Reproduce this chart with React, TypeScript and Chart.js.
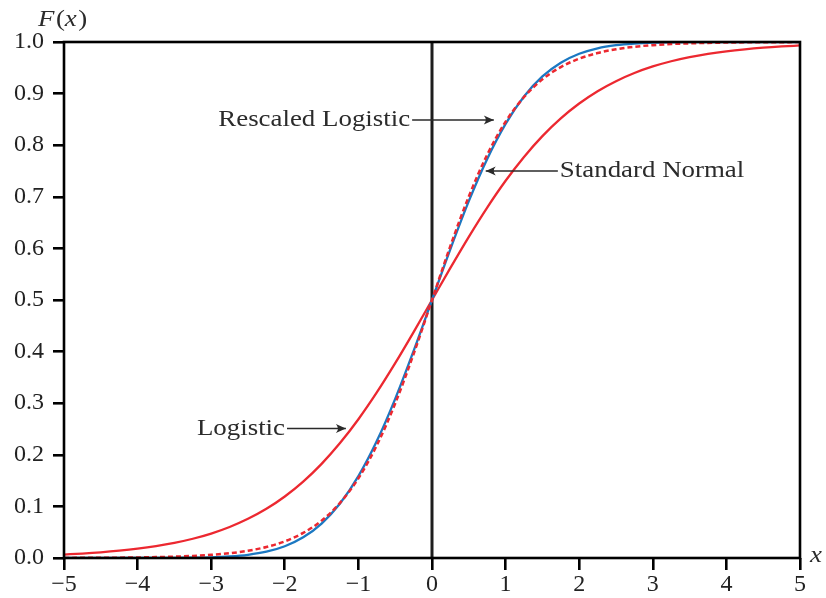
import React, { useEffect, useRef } from "react";
import { Chart, registerables } from "chart.js";

Chart.register(...registerables);

const xValues = [
  -5, -4.75, -4.5, -4.25, -4, -3.75, -3.5, -3.25, -3, -2.75, -2.5, -2.25, -2, -1.75, -1.5, -1.25, -1, -0.75, -0.5, -0.25,
  0, 0.25, 0.5, 0.75, 1, 1.25, 1.5, 1.75, 2, 2.25, 2.5, 2.75, 3, 3.25, 3.5, 3.75, 4, 4.25, 4.5, 4.75, 5,
];

const logistic = [
  0.0067, 0.0086, 0.011, 0.0141, 0.018, 0.023, 0.0293, 0.0373, 0.0474, 0.0601, 0.0759, 0.0953, 0.1192, 0.148, 0.1824,
  0.2227, 0.2689, 0.3208, 0.3775, 0.4378, 0.5, 0.5622, 0.6225, 0.6792, 0.7311, 0.7773, 0.8176, 0.852, 0.8808, 0.9047,
  0.9241, 0.9399, 0.9526, 0.9627, 0.9707, 0.977, 0.982, 0.9859, 0.989, 0.9914, 0.9933,
];

const standardNormal = [
  0.0, 0.0, 0.0, 0.0, 0.0, 0.0001, 0.0002, 0.0006, 0.0013, 0.003, 0.0062, 0.0122, 0.0228, 0.0401, 0.0668, 0.1056, 0.1587,
  0.2266, 0.3085, 0.4013, 0.5, 0.5987, 0.6915, 0.7734, 0.8413, 0.8944, 0.9332, 0.9599, 0.9772, 0.9878, 0.9938, 0.997,
  0.9987, 0.9994, 0.9998, 0.9999, 1.0, 1.0, 1.0, 1.0, 1.0,
];

const rescaledLogistic = [
  0.0002, 0.0003, 0.0005, 0.0007, 0.0011, 0.0017, 0.0026, 0.004, 0.0061, 0.0092, 0.0141, 0.0214, 0.0323, 0.0486, 0.0724,
  0.1067, 0.1545, 0.2184, 0.2994, 0.3953, 0.5, 0.6047, 0.7006, 0.7816, 0.8455, 0.8933, 0.9276, 0.9514, 0.9677, 0.9786,
  0.9859, 0.9908, 0.9939, 0.996, 0.9974, 0.9983, 0.9989, 0.9993, 0.9995, 0.9997, 0.9998,
];

const annotationLabels = ["Rescaled Logistic", "Standard Normal", "Logistic"];
// [tailX, tipX, y, textSide]
const annotationArrows: [number, number, number, string][] = [
  [-0.27, 0.84, 0.849, "left"],
  [1.71, 0.73, 0.75, "right"],
  [-1.97, -1.17, 0.251, "left"],
];

const RED = "#ec2830";
const BLUE = "#1b78c2";
const SERIF = "'Liberation Serif', 'DejaVu Serif', serif";
const STRETCH = 1.12;

const toPts = (ys: number[]) => xValues.map((x, i) => ({ x, y: ys[i] }));

function stretchedText(ctx: CanvasRenderingContext2D, text: string, x: number, y: number, align: string) {
  const w = ctx.measureText(text).width * STRETCH;
  const startX = align === "right" ? x - w : x;
  ctx.save();
  ctx.translate(startX, y);
  ctx.scale(STRETCH, 1);
  ctx.textAlign = "left";
  ctx.fillText(text, 0, 0);
  ctx.restore();
  return w;
}

const decorPlugin = {
  id: "decor",
  beforeDatasetsDraw(chart: any) {
    const { ctx, chartArea, scales } = chart;
    const x0 = scales.x.getPixelForValue(0);
    ctx.save();
    ctx.strokeStyle = "#1e1e1e";
    ctx.lineWidth = 3;
    ctx.beginPath();
    ctx.moveTo(x0, chartArea.top);
    ctx.lineTo(x0, chartArea.bottom);
    ctx.stroke();
    ctx.restore();
  },
  afterDraw(chart: any) {
    const { ctx, chartArea, scales } = chart;
    const { left, top, right, bottom } = chartArea;
    ctx.save();
    ctx.strokeStyle = "#000";
    ctx.lineWidth = 2.6;
    ctx.strokeRect(left, top, right - left, bottom - top);

    // arrows and labels
    ctx.font = `24px ${SERIF}`;
    ctx.textBaseline = "middle";
    annotationArrows.forEach(([tailX, tipX, y, side], i) => {
      const px0 = scales.x.getPixelForValue(tailX);
      const px1 = scales.x.getPixelForValue(tipX);
      const py = scales.y.getPixelForValue(y);
      ctx.strokeStyle = "#2a2a2a";
      ctx.lineWidth = 1.5;
      ctx.beginPath();
      ctx.moveTo(px0, py);
      ctx.lineTo(px1, py);
      ctx.stroke();
      const d = px1 > px0 ? 1 : -1;
      ctx.fillStyle = "#2a2a2a";
      ctx.beginPath();
      ctx.moveTo(px1, py);
      ctx.lineTo(px1 - d * 10, py - 4.5);
      ctx.quadraticCurveTo(px1 - d * 6, py, px1 - d * 10, py + 4.5);
      ctx.closePath();
      ctx.fill();
      ctx.fillStyle = "#2b2b2b";
      if (side === "left") {
        stretchedText(ctx, annotationLabels[i], px0 - 2, py, "right");
      } else {
        stretchedText(ctx, annotationLabels[i], px0 + 2, py, "left");
      }
    });

    // axis titles
    ctx.fillStyle = "#2b2b2b";
    ctx.textBaseline = "middle";
    const parts: [string, boolean][] = [
      ["F", true],
      ["(", false],
      ["x", true],
      [")", false],
    ];
    let cx = 38;
    parts.forEach(([t, it]) => {
      ctx.font = `${it ? "italic " : ""}24px ${SERIF}`;
      cx += stretchedText(ctx, t, cx, 20, "left") + (it ? 1.5 : 0);
    });
    ctx.font = `italic 24px ${SERIF}`;
    stretchedText(ctx, "x", right + 10, bottom - 2, "left");
    ctx.restore();
  },
};

export default function App() {
  const ref = useRef<HTMLCanvasElement | null>(null);
  useEffect(() => {
    if (!ref.current) return;
    const chart = new Chart(ref.current, {
      type: "line",
      data: {
        datasets: [
          {
            label: "Rescaled Logistic",
            data: toPts(rescaledLogistic),
            borderColor: RED,
            borderWidth: 2.5,
            borderDash: [5, 3],
            pointRadius: 0,
            cubicInterpolationMode: "monotone",
            fill: false,
            order: 0,
          },
          {
            label: "Standard Normal",
            data: toPts(standardNormal),
            borderColor: BLUE,
            borderWidth: 2.3,
            pointRadius: 0,
            cubicInterpolationMode: "monotone",
            fill: false,
            order: 1,
          },
          {
            label: "Logistic",
            data: toPts(logistic),
            borderColor: RED,
            borderWidth: 2.3,
            pointRadius: 0,
            cubicInterpolationMode: "monotone",
            fill: false,
            order: 2,
          },
        ],
      },
      options: {
        responsive: false,
        animation: false,
        layout: { padding: { top: 42, right: 26, bottom: 0, left: 0 } },
        plugins: { legend: { display: false }, tooltip: { enabled: false } },
        scales: {
          x: {
            type: "linear",
            min: -5,
            max: 5,
            border: { display: false },
            grid: { display: true, drawOnChartArea: false, drawTicks: true, tickLength: 12, color: "#000", lineWidth: 2.6 },
            ticks: {
              stepSize: 1,
              padding: 3,
              color: "#222",
              font: { family: SERIF, size: 24, lineHeight: 1.0 },
              maxRotation: 0,
              callback: (v: any) => (v < 0 ? "\u2212" + Math.abs(v) : String(v)),
            },
            afterFit: (s: any) => {
              s.height = 40;
            },
          },
          y: {
            type: "linear",
            min: 0,
            max: 1,
            border: { display: false },
            grid: { display: true, drawOnChartArea: false, drawTicks: true, tickLength: 11, color: "#000", lineWidth: 2.6 },
            ticks: {
              stepSize: 0.1,
              padding: 9,
              color: "#222",
              font: { family: SERIF, size: 24 },
              callback: (v: any) => Number(v).toFixed(1),
            },
            afterFit: (s: any) => {
              s.width = 64;
            },
          },
        },
      },
      plugins: [decorPlugin],
    } as any);
    return () => chart.destroy();
  }, []);
  return (
    <div style={{ position: "absolute", left: 0, top: 0, width: 826, height: 598, background: "#fff" }}>
      <canvas ref={ref} width={826} height={598} />
    </div>
  );
}
